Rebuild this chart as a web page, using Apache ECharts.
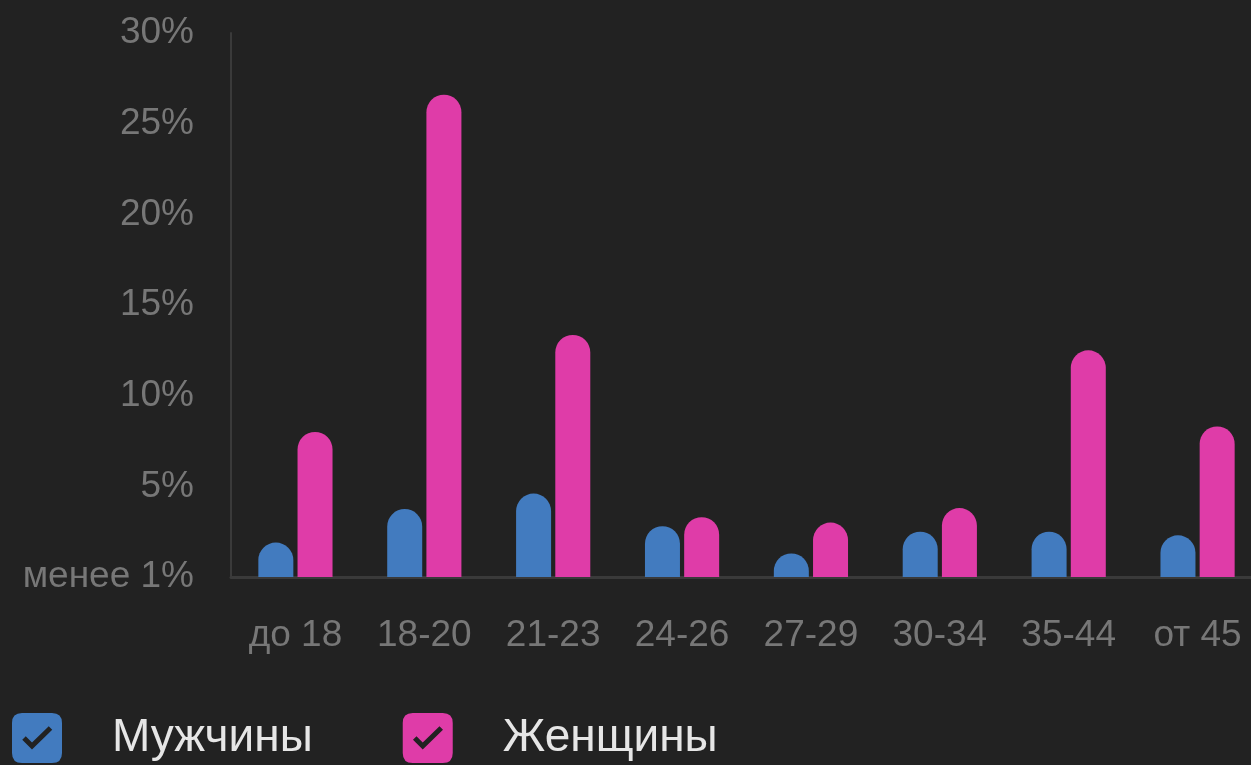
<!DOCTYPE html>
<html>
<head>
<meta charset="utf-8">
<script src="https://cdn.jsdelivr.net/npm/echarts@6/dist/echarts.min.js"></script>
<style>
html,body{margin:0;padding:0;background:#222222;}
#chart{width:1251px;height:765px;}
</style>
</head>
<body>
<div id="chart"></div>
<script>
var categories = ['до 18', '18-20', '21-23', '24-26', '27-29', '30-34', '35-44', 'от 45'];
var menValues = [1.9, 3.75, 4.6, 2.8, 1.3, 2.5, 2.5, 2.3];
var womenValues = [8.0, 26.6, 13.35, 3.3, 3.0, 3.8, 12.5, 8.3];
var seriesNames = ['Мужчины', 'Женщины'];
var yTicks = { 0: 'менее 1%', 5: '5%', 10: '10%', 15: '15%', 20: '20%', 25: '25%', 30: '30%' };

// checkbox icon: rounded square with a check-mark hole (reverse winding)
var checkIcon = 'path://M20,0 L80,0 Q100,0 100,20 L100,80 Q100,100 80,100 L20,100 Q0,100 0,80 L0,20 Q0,0 20,0 Z ' +
  'M20.5,53.5 L40,73 L80.5,33.5 L73.5,26.5 L40,59 L27.5,46.5 Z';

var chart = echarts.init(document.getElementById('chart'), null, { renderer: 'canvas' });
var font = '"Liberation Sans", Arial, sans-serif';
chart.setOption({
  backgroundColor: '#222222',
  animation: false,
  grid: { left: 231, top: 33, width: 1031, bottom: 188, containLabel: false, outerBoundsMode: 'none' },
  legend: {
    left: 12,
    top: 713,
    padding: 0,
    itemWidth: 50,
    itemHeight: 50,
    itemGap: 90,
    icon: checkIcon,
    data: seriesNames,
    textStyle: { color: '#e6e6e6', fontSize: 46, fontFamily: font, padding: [12, 0, 0, 45] }
  },
  xAxis: {
    type: 'category',
    data: categories,
    axisLine: { show: true, lineStyle: { color: '#3a3a3a', width: 3 } },
    axisTick: { show: false },
    axisLabel: { color: '#777777', fontSize: 37, fontFamily: font, margin: 40, interval: 0 }
  },
  yAxis: {
    type: 'value',
    min: 0,
    max: 30,
    interval: 5,
    axisLine: { show: true, lineStyle: { color: '#3a3a3a', width: 2 } },
    axisTick: { show: false },
    splitLine: { show: false },
    axisLabel: {
      color: '#777777', fontSize: 37, fontFamily: font, margin: 37, padding: [6, 0, 0, 0],
      formatter: function (v) { return yTicks[v] !== undefined ? yTicks[v] : ''; }
    }
  },
  series: [
    {
      name: seriesNames[0],
      type: 'bar',
      data: menValues,
      barWidth: 35,
      barGap: '12%',
      itemStyle: { color: '#427bbf', borderRadius: [17.5, 17.5, 0, 0] }
    },
    {
      name: seriesNames[1],
      type: 'bar',
      data: womenValues,
      barWidth: 35,
      barGap: '12%',
      itemStyle: { color: '#df3ca8', borderRadius: [17.5, 17.5, 0, 0] }
    }
  ]
});
</script>
</body>
</html>
